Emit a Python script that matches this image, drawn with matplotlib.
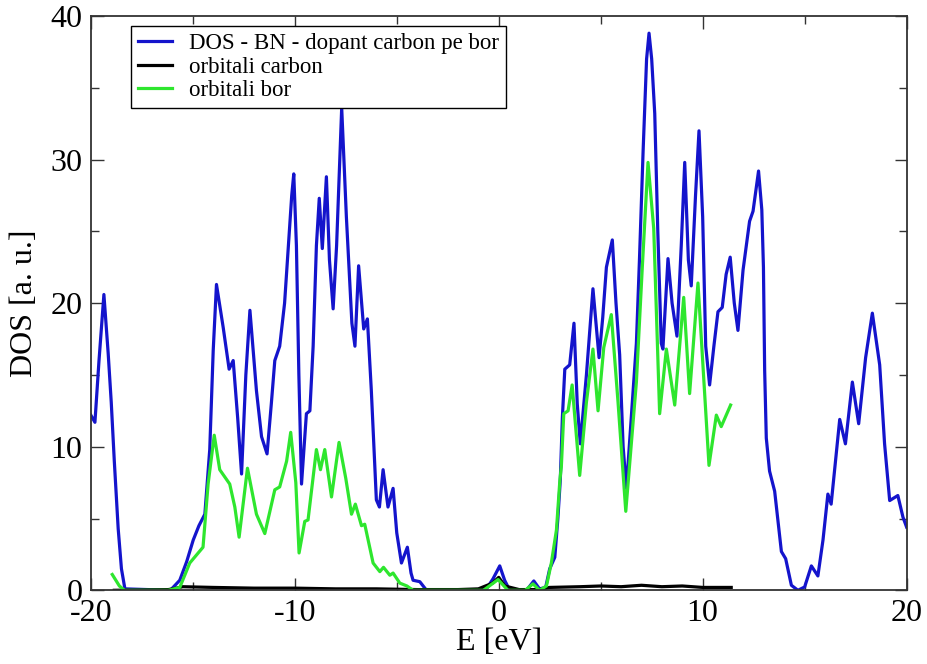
import matplotlib
matplotlib.use("Agg")
import matplotlib.pyplot as plt
from matplotlib.ticker import MultipleLocator

# Total DOS (blue)
e_total = [
    -20.0, -19.8, -19.6, -19.36, -19.15, -19.0, -18.85, -18.66, -18.5, -18.33,
    -16.1, -15.64, -15.3, -14.98, -14.7, -14.41, -14.17, -14.0, -13.84, -13.51,
    -13.22, -13.02, -12.8, -12.61, -12.4, -12.2, -11.88, -11.63, -11.36, -11.15,
    -10.98, -10.74, -10.5, -10.33, -10.15, -10.05, -9.92, -9.8, -9.67, -9.43,
    -9.26, -9.1, -8.94, -8.8, -8.65, -8.45, -8.3, -8.12, -7.95, -7.7,
    -7.47, -7.2, -7.05, -6.87, -6.62, -6.44, -6.25, -6.0, -5.85, -5.67,
    -5.43, -5.18, -5.0, -4.77, -4.48, -4.3, -4.2, -3.87, -3.54, -1.0,
    -0.6, -0.28, 0.05, 0.29, 0.54, 1.36, 1.72, 2.0, 2.3, 2.5,
    2.75, 2.9, 3.02, 3.12, 3.24, 3.48, 3.69, 3.85, 4.0, 4.3,
    4.62, 4.92, 5.1, 5.28, 5.57, 5.75, 5.93, 6.1, 6.26, 6.5,
    6.75, 6.9, 7.08, 7.25, 7.37, 7.5, 7.65, 7.8, 7.97, 8.05,
    8.3, 8.5, 8.74, 8.95, 9.12, 9.3, 9.44, 9.65, 9.82, 10.0,
    10.15, 10.34, 10.55, 10.75, 10.96, 11.15, 11.35, 11.55, 11.73, 11.98,
    12.3, 12.47, 12.74, 12.9, 12.98, 13.04, 13.12, 13.28, 13.53, 13.86,
    14.07, 14.35, 14.67, 15.0, 15.33, 15.65, 15.9, 16.14, 16.3, 16.55,
    16.72, 17.0, 17.34, 17.65, 17.99, 18.32, 18.68, 18.92, 19.17, 19.57,
    19.82, 20.0,
]
dos_total = [
    12.2, 11.7, 16.0, 20.6, 16.5, 13.1, 9.0, 4.3, 1.5, 0.1,
    0.0, 0.7, 2.0, 3.5, 4.5, 5.3, 9.8, 16.7, 21.3, 18.3,
    15.4, 16.0, 12.0, 8.1, 15.0, 19.5, 13.9, 10.7, 9.5, 13.0,
    16.0, 17.0, 20.0, 23.7, 27.5, 29.0, 24.0, 15.0, 7.4, 12.3,
    12.5, 17.0, 24.0, 27.3, 23.8, 28.8, 23.0, 19.6, 24.0, 33.6,
    26.0, 18.6, 17.0, 22.6, 18.2, 18.9, 14.0, 6.3, 5.8, 8.4,
    5.8, 7.1, 4.0, 1.9, 3.0, 1.2, 0.7, 0.6, 0.0, 0.0,
    0.1, 0.8, 1.7, 0.7, 0.0, 0.0, 0.65, 0.1, 0.2, 1.5,
    2.3, 5.0, 7.7, 12.0, 15.4, 15.7, 18.6, 13.0, 10.2, 15.0,
    21.0, 16.2, 19.0, 22.5, 24.4, 20.0, 16.4, 10.0, 7.1, 12.0,
    17.2, 23.0, 30.6, 37.0, 38.8, 37.0, 33.2, 25.0, 17.2, 16.8,
    23.1, 20.0, 17.7, 24.0, 29.8, 23.0, 21.2, 27.5, 32.0, 26.0,
    17.0, 14.3, 17.0, 19.4, 19.7, 22.0, 23.2, 20.0, 18.1, 22.3,
    25.7, 26.4, 29.2, 26.5, 22.5, 15.3, 10.6, 8.3, 6.9, 2.7,
    2.2, 0.35, 0.0, 0.23, 1.7, 1.0, 3.5, 6.7, 6.0, 9.5,
    11.9, 10.2, 14.5, 11.6, 16.2, 19.3, 15.7, 10.2, 6.25, 6.6,
    5.1, 4.4,
]

# Carbon orbitals (black)
e_carbon = [
    -18.85, -16.2, -15.8, -15.5, -14.0, -12.0, -10.0, -8.0, -6.0, -4.0,
    -2.0, -1.0, -0.3, 0.0, 0.3, 1.0, 2.0, 2.5, 4.0, 5.0,
    6.0, 7.0, 8.0, 9.0, 10.0, 11.4,
]
dos_carbon = [
    0.0, 0.05, 0.15, 0.25, 0.2, 0.15, 0.15, 0.1, 0.1, 0.05,
    0.05, 0.1, 0.5, 0.9, 0.3, 0.05, 0.05, 0.2, 0.25, 0.3,
    0.25, 0.35, 0.25, 0.3, 0.2, 0.2,
]

# Boron orbitals (green)
e_bor = [
    -18.95, -18.6, -18.35, -16.2, -15.64, -15.15, -14.5, -14.25, -13.95, -13.68,
    -13.19, -12.94, -12.73, -12.32, -11.88, -11.47, -10.98, -10.74, -10.4, -10.2,
    -9.95, -9.79, -9.51, -9.35, -8.94, -8.74, -8.53, -8.2, -7.83, -7.5,
    -7.22, -7.03, -6.73, -6.57, -6.16, -5.83, -5.65, -5.34, -5.18, -4.85,
    -4.5, -4.2, -0.75, -0.03, 0.45, 1.3, 1.68, 2.0, 2.34, 2.58,
    2.83, 3.0, 3.07, 3.19, 3.4, 3.6, 3.97, 4.3, 4.62, 4.87,
    5.15, 5.52, 5.85, 6.23, 6.75, 7.04, 7.32, 7.6, 7.89, 8.22,
    8.63, 9.07, 9.36, 9.77, 10.31, 10.67, 10.91, 11.37,
]
dos_bor = [
    1.1, 0.3, 0.0, 0.0, 0.2, 1.9, 3.0, 7.4, 10.8, 8.4,
    7.4, 5.8, 3.7, 8.5, 5.3, 3.95, 7.0, 7.2, 9.0, 11.0,
    7.5, 2.6, 4.8, 4.9, 9.8, 8.4, 9.8, 6.5, 10.3, 7.8,
    5.3, 6.0, 4.5, 4.6, 1.9, 1.3, 1.6, 1.05, 1.2, 0.5,
    0.3, 0.0, 0.0, 0.75, 0.0, 0.0, 0.45, 0.0, 0.3, 1.9,
    4.2, 7.7, 8.6, 12.3, 12.5, 14.3, 8.0, 13.1, 16.8, 12.5,
    16.9, 19.2, 13.1, 5.5, 14.5, 22.5, 29.8, 25.2, 12.3, 16.8,
    12.9, 20.4, 13.7, 21.4, 8.7, 12.2, 11.4, 12.9,
]


def main():
    plt.rcParams['font.family'] = ['Liberation Serif', 'DejaVu Serif']
    plt.rcParams['axes.unicode_minus'] = False

    fig = plt.figure(figsize=(9.27, 6.64), dpi=100)
    ax = fig.add_axes([0.098, 0.111, 0.880, 0.865])

    # Curves, drawn in the original set order
    ax.plot(e_total, dos_total, color='#1414cc', linewidth=2.3,
            solid_joinstyle='round', label='DOS - BN - dopant carbon pe bor')
    ax.plot(e_carbon, dos_carbon, color='black', linewidth=2.3,
            solid_joinstyle='round', label='orbitali carbon')
    ax.plot(e_bor, dos_bor, color='#2ee62e', linewidth=2.3,
            solid_joinstyle='round', label='orbitali bor')

    ax.set_xlim(-20, 20)
    ax.set_ylim(0, 40)

    ax.xaxis.set_major_locator(MultipleLocator(10))
    ax.xaxis.set_minor_locator(MultipleLocator(5))
    ax.yaxis.set_major_locator(MultipleLocator(10))
    ax.yaxis.set_minor_locator(MultipleLocator(5))
    ax.tick_params(which='both', direction='in', top=True, right=True,
                   labelsize=23, width=1.0, color='#333333')
    ax.tick_params(which='major', length=9, pad=6)
    ax.tick_params(which='minor', length=6)

    for spine in ax.spines.values():
        spine.set_linewidth(1.3)
        spine.set_color('#333333')

    ax.set_xlabel('E [eV]', fontsize=23, labelpad=0)
    ax.set_ylabel('DOS [a. u.]', fontsize=23, labelpad=8)

    leg = ax.legend(loc='upper left', bbox_to_anchor=(0.049, 0.982),
                    fontsize=16.5, frameon=True, fancybox=False,
                    edgecolor='black', framealpha=1.0, borderpad=0.3,
                    labelspacing=0.1, handlelength=1.5, handletextpad=0.75,
                    borderaxespad=0.0)
    leg.get_frame().set_linewidth(1.0)

    fig.savefig('out.png', dpi=100)


if __name__ == "__main__":
    main()
